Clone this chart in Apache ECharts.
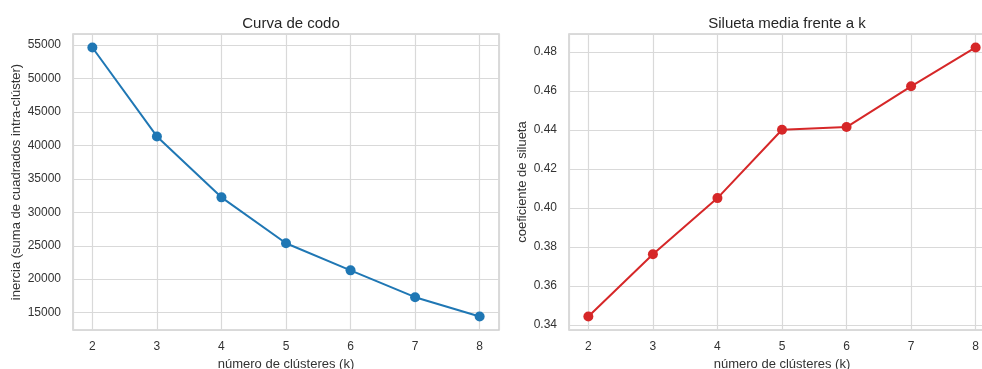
<!DOCTYPE html>
<html><head><meta charset="utf-8">
<script src="https://cdn.jsdelivr.net/npm/echarts@6/dist/echarts.min.js"></script>
<style>html,body{margin:0;padding:0;background:#fff}#c{width:982px;height:369px}</style>
</head><body><div id="c"></div>
<script>
const kValues = [2, 3, 4, 5, 6, 7, 8];
const inertia = [54650, 41350, 32240, 25380, 21320, 17310, 14410];
const silhouette = [0.3443, 0.3762, 0.4050, 0.4400, 0.4414, 0.4623, 0.4822];
const titles = ['Curva de codo', 'Silueta media frente a k'];
const xName = 'número de clústeres (k)';
const yNames = ['inercia (suma de cuadrados intra-clúster)', 'coeficiente de silueta'];

const font = 'Liberation Sans, Arial, sans-serif';
const txt = '#333333';
const gridCol = '#d9d9d9';

function pairs(ys){ return kValues.map((k,i)=>[k, ys[i]]); }

function xAxis(idx){
  return {
    type:'value', gridIndex: idx, min:1.7, max:8.3, minInterval:1, maxInterval:1,
    name: xName, nameLocation:'middle', nameGap:26,
    nameTextStyle:{fontFamily:font, fontSize:13, color:txt},
    axisLine:{show:false}, axisTick:{show:false},
    axisLabel:{fontFamily:font, fontSize:12, color:txt, margin:11, showMinLabel:false, showMaxLabel:false},
    splitLine:{show:true, lineStyle:{color:gridCol, width:1.2}}
  };
}
function yAxis(idx, min, max, iv, dec, gap){
  return {
    type:'value', gridIndex: idx, min:min, max:max, minInterval:iv, maxInterval:iv,
    name: yNames[idx], nameLocation:'middle', nameGap:gap,
    nameTextStyle:{fontFamily:font, fontSize:13, color:txt},
    axisLine:{show:false}, axisTick:{show:false},
    axisLabel:{fontFamily:font, fontSize:12, color:txt, margin:12, showMinLabel:false, showMaxLabel:false,
      formatter: v => dec ? v.toFixed(2) : String(Math.round(v))},
    splitLine:{show:true, lineStyle:{color:gridCol, width:1.2}}
  };
}

const chart = echarts.init(document.getElementById('c'), null, {renderer:'canvas'});
chart.setOption({
  animation:false,
  backgroundColor:'#ffffff',
  title:[
    {text:titles[0], left:286, top:11, textAlign:'center', textStyle:{fontFamily:font, fontSize:15, fontWeight:'normal', color:'#262626'}},
    {text:titles[1], left:782, top:11, textAlign:'center', textStyle:{fontFamily:font, fontSize:15, fontWeight:'normal', color:'#262626'}}
  ],
  grid:[
    {left:73, top:34, width:426, height:296, show:true, borderColor:'#cfcfcf', borderWidth:1.5, backgroundColor:'#fff', outerBoundsMode:'none', containLabel:false},
    {left:569, top:34, width:426, height:296, show:true, borderColor:'#cfcfcf', borderWidth:1.5, backgroundColor:'#fff', outerBoundsMode:'none', containLabel:false}
  ],
  xAxis:[xAxis(0), xAxis(1)],
  yAxis:[yAxis(0, 12400, 56670, 5000, false, 50), yAxis(1, 0.3374, 0.4891, 0.02, true, 40)],
  series:[
    {type:'line', xAxisIndex:0, yAxisIndex:0, data:pairs(inertia), symbol:'circle', symbolSize:10,
      lineStyle:{color:'#1f77b4', width:2}, itemStyle:{color:'#1f77b4'}},
    {type:'line', xAxisIndex:1, yAxisIndex:1, data:pairs(silhouette), symbol:'circle', symbolSize:10,
      lineStyle:{color:'#d62728', width:2}, itemStyle:{color:'#d62728'}}
  ]
});
</script></body></html>
